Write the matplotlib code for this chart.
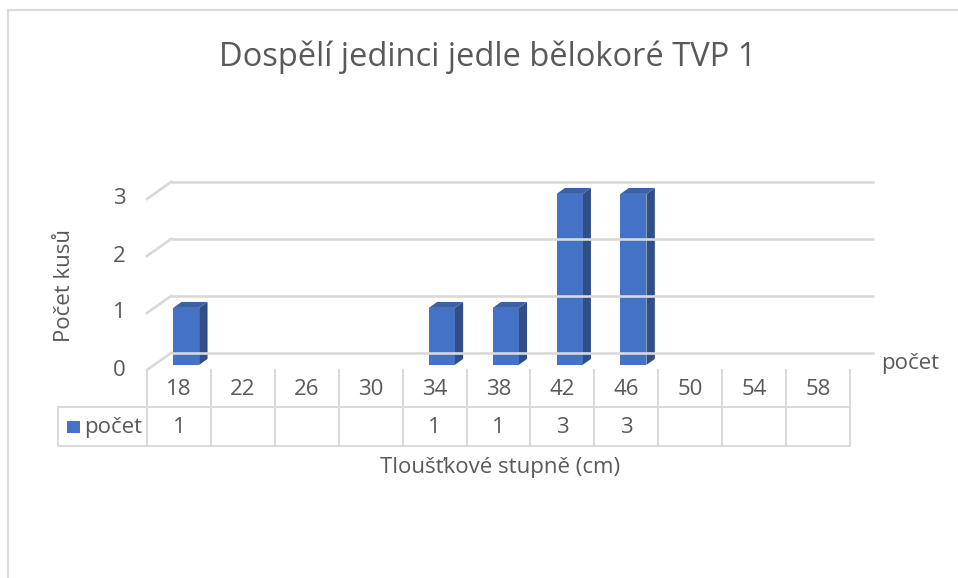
import numpy as np
import matplotlib.pyplot as plt
from matplotlib.patches import Polygon, Rectangle

plt.rcParams["font.family"] = ["Open Sans", "DejaVu Sans"]

# ---- data ----
categories = ["18", "22", "26", "30", "34", "38", "42", "46", "50", "54", "58"]
counts = [1, 0, 0, 0, 1, 1, 3, 3, 0, 0, 0]
table_values = ["1", "", "", "", "1", "1", "3", "3", "", "", ""]
yticks = [0, 1, 2, 3]
series_name = "počet"

# ---- style ----
TXT = "#595959"
GRID = "#D9D9D9"
FRONT = "#4472C4"
SIDE = "#2F4F85"
TOP = "#3A62A8"
FS = 16

W, H = 958, 578
fig = plt.figure(figsize=(W / 100, H / 100), dpi=100)
ax = fig.add_axes([0, 0, 1, 1])
ax.set_axis_off()

# pixel geometry -> data scale (one category = 63.9 px, one unit = 57 px)
px_x = 63.9
px_y = 57.0
x0_px = 147
y0_px = 370
ax.set_xlim(-0.5 - x0_px / px_x, -0.5 + (W - x0_px) / px_x)
ax.set_ylim(-(H - y0_px) / px_y, y0_px / px_y)

n = len(categories)
dx, dy = 24 / px_x, 17 / px_y   # depth of the floor
left, right = -0.5, n - 0.5

# back wall gridlines + left slanted edge
for v in yticks:
    ax.plot([left + dx, right + dx], [v + dy, v + dy], color=GRID, lw=1.9,
            solid_capstyle="butt")
    ax.plot([left, left + dx], [v, v + dy], color=GRID, lw=1.9)
    ax.text(left - 0.33, v, str(v), ha="right", va="center", fontsize=FS,
            color=TXT)

# 3d columns
bw = 26 / px_x
f1, f2 = 0.3, 0.65
for i, c in enumerate(counts):
    if c <= 0:
        continue
    xl = i - bw / 2 + f1 * dx
    xr = xl + bw
    yb = f1 * dy
    yt = yb + c
    ddx, ddy = (f2 - f1) * dx, (f2 - f1) * dy
    ax.add_patch(Polygon([[xr, yb], [xr + ddx, yb + ddy], [xr + ddx, yt + ddy],
                          [xr, yt]], closed=True, fc=SIDE, ec="none"))
    ax.add_patch(Polygon([[xl, yt], [xr, yt], [xr + ddx, yt + ddy],
                          [xl + ddx, yt + ddy]], closed=True, fc=TOP, ec="none"))
    ax.add_patch(Rectangle((xl, yb), bw, c, fc=FRONT, ec="none"))

# data table
r1 = -37 / px_y
r2 = -76 / px_y
leg_left = left - 89 / px_x
for k in range(n + 1):
    ax.plot([left + k, left + k], [0, r2], color=GRID, lw=1.4)
ax.plot([leg_left, right], [r1, r1], color=GRID, lw=1.4)
ax.plot([leg_left, right], [r2, r2], color=GRID, lw=1.4)
ax.plot([leg_left, leg_left], [r1, r2], color=GRID, lw=1.4)
for i, (cat, val) in enumerate(zip(categories, table_values)):
    ax.text(i, r1 / 2 - 0.02, cat, ha="center", va="center", fontsize=FS,
            color=TXT)
    if val:
        ax.text(i, (r1 + r2) / 2 - 0.02, val, ha="center", va="center",
                fontsize=FS, color=TXT)
ax.add_patch(Rectangle((leg_left + 9 / px_x, (r1 + r2) / 2 - 6 / px_y),
                       13 / px_x, 12 / px_y, fc=FRONT, ec="none"))
ax.text(leg_left + 26 / px_x, (r1 + r2) / 2 - 0.02, series_name, ha="left",
        va="center", fontsize=FS, color=TXT)

# series (depth) axis label
ax.text(right + dx + 0.12, 0.12, series_name, ha="left", va="center",
        fontsize=FS, color=TXT)

# titles
fig.text(488 / W, 1 - 57 / H, "Dospělí jedinci jedle bělokoré TVP 1",
         ha="center", va="center", fontsize=23.5, color=TXT)
fig.text(500 / W, 1 - 468 / H, "Tloušťkové stupně (cm)", ha="center",
         va="center", fontsize=FS, color=TXT)
fig.text(65 / W, 1 - 286 / H, "Počet kusů", ha="center", va="center",
         rotation=90, fontsize=FS, color=TXT)

# chart border
fig.patches.append(Rectangle((8 / W, -0.05), 1.2, 1 - 10 / H + 0.05,
                             transform=fig.transFigure, fill=False,
                             ec=GRID, lw=1.5))

fig.savefig("out.png", dpi=100, facecolor="white")
